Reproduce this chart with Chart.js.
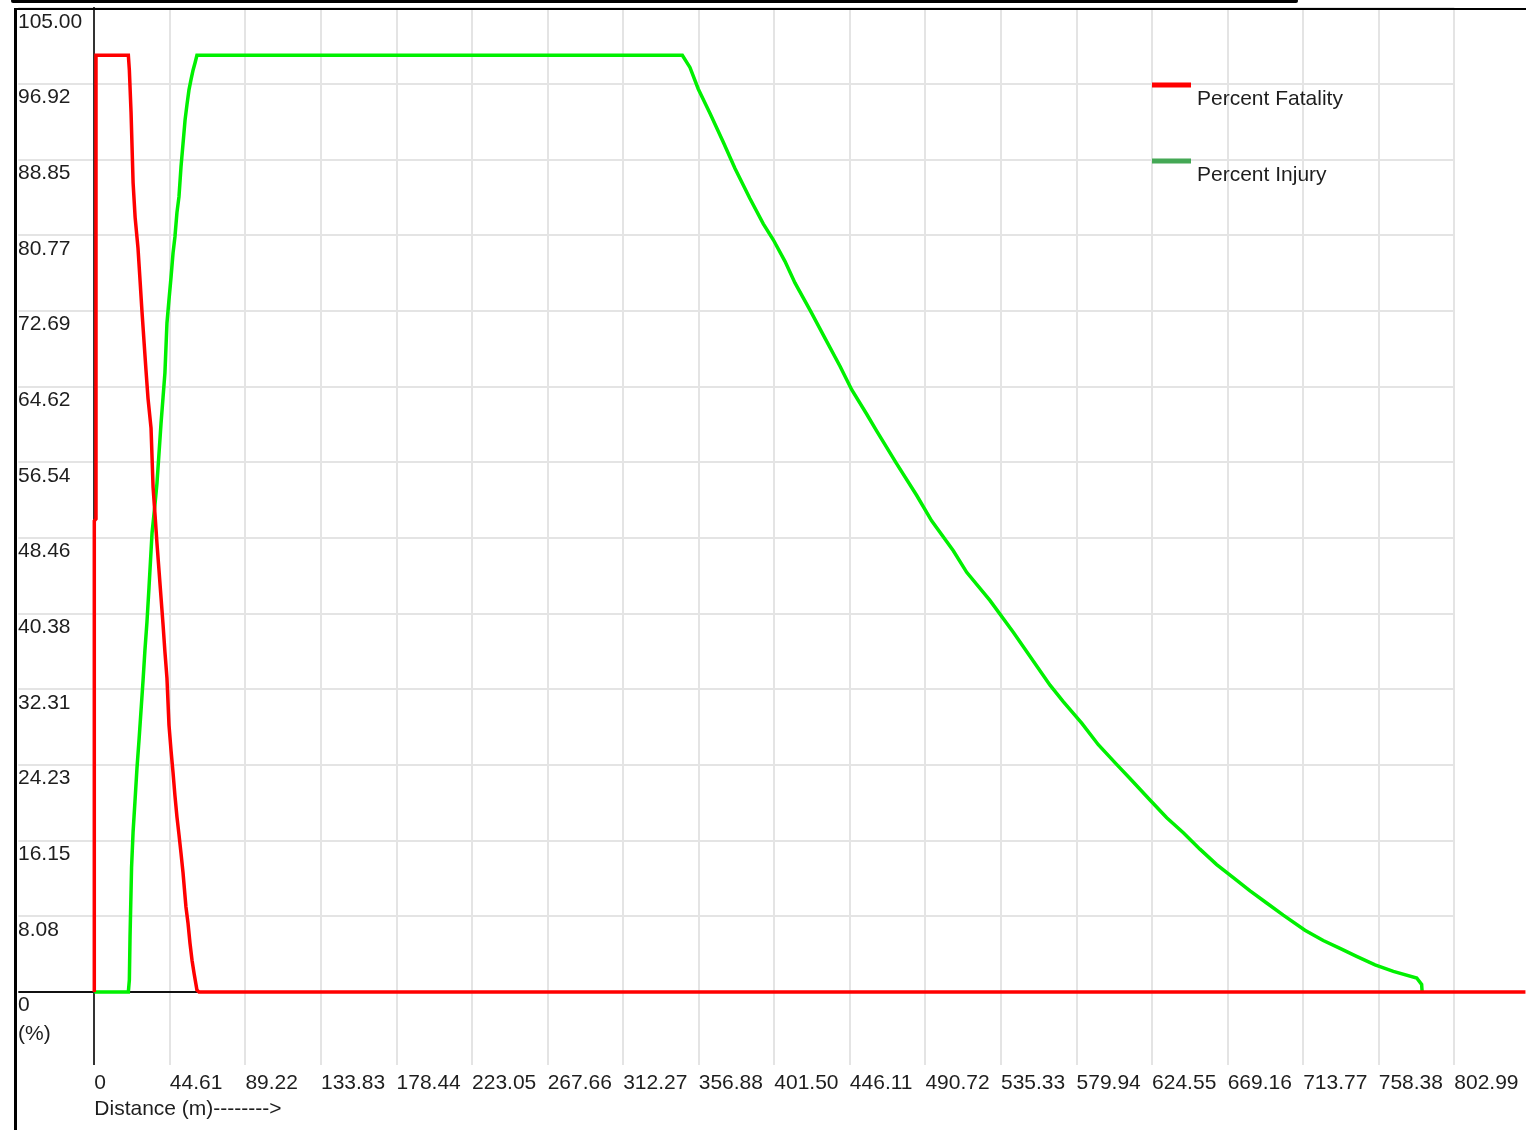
<!DOCTYPE html>
<html>
<head>
<meta charset="utf-8">
<script src="https://cdn.jsdelivr.net/npm/chart.js@4.4.1/dist/chart.umd.min.js"></script>
<style>
  html, body { margin: 0; padding: 0; background: #fff; overflow: hidden; }
  canvas { display: block; }
</style>
</head>
<body>
<canvas id="hazardChart" width="1526" height="1130"></canvas>
<script>
// tick labels as printed on the axes
const xTickLabels = ['0', '44.61', '89.22', '133.83', '178.44', '223.05', '267.66', '312.27',
  '356.88', '401.50', '446.11', '490.72', '535.33', '579.94', '624.55', '669.16', '713.77',
  '758.38', '802.99'];
const yTickLabels = ['0', '8.08', '16.15', '24.23', '32.31', '40.38', '48.46', '56.54',
  '64.62', '72.69', '80.77', '88.85', '96.92', '105.00'];

const seriesNames = ['Percent Fatality', 'Percent Injury'];

// Percent Fatality vs distance (m)
const fatalityDist = [0, 0, 1, 1, 20.1, 20.7, 21.7, 22.9, 24.1, 25.8, 27.0, 28.1, 29.3, 30.5,
  31.7, 33.5, 34.7, 35.8, 37.0, 38.2, 39.4, 40.6, 41.7, 42.9, 44.1, 45.3, 46.5, 47.6, 48.8,
  50.0, 51.2, 52.4, 54.1, 55.3, 56.5, 57.7, 58.9, 60.6, 61.8, 845];
const fatalityPct = [0, 50.3, 50.5, 100, 100, 98.4, 93.9, 86.4, 82.7, 79.4, 76.0, 72.8, 69.6,
  66.4, 63.4, 60.2, 53.9, 51.1, 47.9, 45.0, 42.1, 39.2, 36.3, 33.5, 28.5, 25.8, 23.4, 21.0,
  18.7, 16.8, 14.8, 12.7, 9.1, 7.4, 5.2, 3.4, 2.0, 0.2, 0, 0];

// Percent Injury vs distance (m)
const injuryDist = [0, 20.1, 20.7, 21.1, 22.0, 22.9, 24.0, 25.2, 26.4, 27.6, 28.8, 29.9, 31.1,
  32.3, 34.1, 35.8, 37.0, 38.2, 39.4, 40.6, 41.7, 42.9, 44.1, 45.3, 46.5, 47.6, 48.8, 50.0,
  51.2, 52.4, 53.6, 54.7, 55.9, 57.1, 58.3, 59.5, 60.6,
  347.2, 351.7, 356.6, 363.5, 371.4, 378.3, 387.1, 395.0, 400.9, 407.8, 413.7, 422.6, 431.4,
  440.3, 447.2, 456.0, 461.9, 473.7, 485.6, 494.4, 507.2, 515.1, 528.8, 542.6,
  564.3, 572.1, 583.0, 592.8, 603.6, 611.5, 623.3, 633.2, 643.0, 652.8, 662.7, 672.5, 682.4,
  692.2, 702.0, 714.8, 725.6, 735.5, 745.3, 756.2, 767.0, 780.8, 783.7, 784.0];
const injuryPct = [0, 0, 1.3, 5.9, 13.3, 17.1, 20.3, 23.9, 26.9, 30.1, 33.3, 36.5, 39.5, 43.2,
  49.0, 52.0, 54.3, 57.5, 60.7, 63.5, 66.1, 71.4, 73.9, 76.3, 78.9, 80.6, 83.2, 84.9, 88.1,
  90.6, 93.1, 94.7, 96.3, 97.4, 98.4, 99.2, 100,
  100, 98.7, 96.4, 93.8, 90.7, 87.9, 84.7, 82.0, 80.3, 78.0, 75.7, 72.8, 69.8, 66.8, 64.3,
  61.7, 59.9, 56.4, 53.0, 50.3, 47.1, 44.8, 41.8, 38.4,
  32.75, 31.0, 28.7, 26.4, 24.3, 22.8, 20.5, 18.6, 17.0, 15.25, 13.6, 12.2, 10.8, 9.5, 8.2,
  6.6, 5.5, 4.65, 3.8, 2.9, 2.2, 1.5, 0.8, 0];

const toPoints = (xs, ys) => xs.map((x, i) => ({ x: x, y: ys[i] }));

const TEXT = '#1e1e1e';
const GRID = '#e4e4e4';
const AXIS = '#333';

Chart.defaults.font.family = "'Liberation Sans', Arial, sans-serif";
Chart.defaults.font.size = 21;
Chart.defaults.color = TEXT;

// window frame, legend and the "(%)" unit, drawn over the chart
const framePlugin = {
  id: 'frame',
  afterDraw(chart) {
    const ctx = chart.ctx;
    ctx.save();
    ctx.strokeStyle = '#000';
    ctx.lineCap = 'round';
    ctx.lineWidth = 4;
    ctx.beginPath(); ctx.moveTo(13, 1); ctx.lineTo(1296, 1); ctx.stroke();
    ctx.lineCap = 'butt';
    ctx.lineWidth = 2;
    ctx.beginPath(); ctx.moveTo(14, 9); ctx.lineTo(1526, 9); ctx.stroke();
    ctx.lineWidth = 3;
    ctx.beginPath(); ctx.moveTo(15.5, 8); ctx.lineTo(15.5, 1130); ctx.stroke();

    ctx.font = "21px 'Liberation Sans', Arial, sans-serif";
    ctx.fillStyle = TEXT;
    ctx.textBaseline = 'middle';
    ctx.textAlign = 'left';
    ctx.fillText('(%)', 18, 1034);

    // legend
    const legendColors = ['#ff0000', '#44a855'];
    const legendY = [85, 161];
    ctx.lineWidth = 5;
    ctx.textBaseline = 'alphabetic';
    seriesNames.forEach((name, i) => {
      ctx.strokeStyle = legendColors[i];
      ctx.beginPath(); ctx.moveTo(1152, legendY[i]); ctx.lineTo(1191, legendY[i]); ctx.stroke();
      ctx.fillText(name, 1197, legendY[i] + 20);
    });
    ctx.restore();
  }
};

new Chart(document.getElementById('hazardChart'), {
  type: 'line',
  data: {
    datasets: [
      {
        label: seriesNames[0],
        data: toPoints(fatalityDist, fatalityPct),
        borderColor: '#ff0000',
        borderWidth: 3.5,
        pointRadius: 0,
        tension: 0,
        clip: false
      },
      {
        label: seriesNames[1],
        data: toPoints(injuryDist, injuryPct),
        borderColor: '#00f000',
        borderWidth: 3.5,
        pointRadius: 0,
        tension: 0,
        clip: false
      }
    ]
  },
  options: {
    responsive: false,
    animation: false,
    devicePixelRatio: 1,
    layout: { padding: { left: 18, top: 8.4, right: 71.7, bottom: 0 } },
    plugins: { legend: { display: false }, tooltip: { enabled: false } },
    scales: {
      x: {
        type: 'linear',
        min: 0,
        max: 802.99,
        afterBuildTicks: (scale) => {
          scale.ticks = xTickLabels.map(l => ({ value: parseFloat(l) }));
        },
        afterFit: (scale) => { scale.height = 138; },
        ticks: {
          autoSkip: false,
          maxRotation: 0,
          minRotation: 0,
          align: 'start',
          padding: 6,
          callback: (value, index) => xTickLabels[index]
        },
        grid: {
          color: (c) => (c.index === 0 ? AXIS : GRID),
          lineWidth: 2,
          tickLength: 73
        },
        border: { display: true, color: '#111', width: 2 },
        title: {
          display: true,
          text: 'Distance (m)-------->',
          align: 'start',
          padding: { top: 0, bottom: 8 }
        }
      },
      y: {
        min: 0,
        max: 105,
        afterBuildTicks: (scale) => {
          scale.ticks = yTickLabels.map(l => ({ value: parseFloat(l) }));
        },
        afterFit: (scale) => { scale.width = 76.3; },
        ticks: {
          align: 'start',
          crossAlign: 'far',
          labelOffset: 3,
          callback: (value, index) => yTickLabels[index]
        },
        grid: {
          color: (c) => (c.tick && c.tick.value === 0 ? '#111' : GRID),
          lineWidth: 2,
          tickLength: 76
        },
        border: { display: true, color: AXIS, width: 2 }
      }
    }
  },
  plugins: [framePlugin]
});
</script>
</body>
</html>
